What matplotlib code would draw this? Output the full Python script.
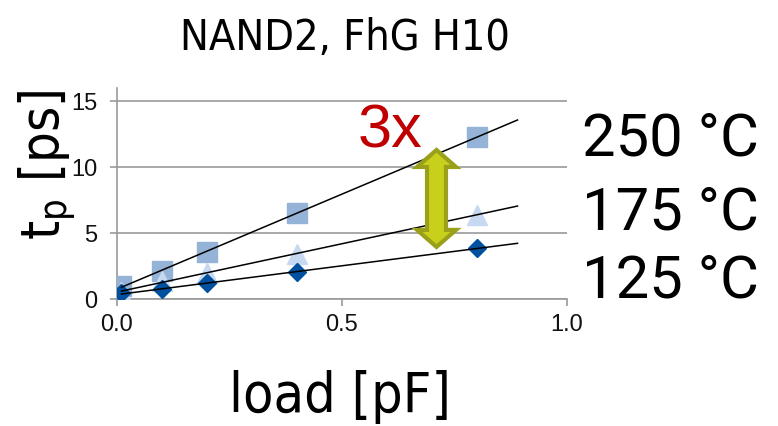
import numpy as np
import matplotlib
matplotlib.use('Agg')
import matplotlib.pyplot as plt
from matplotlib import font_manager as fm
from matplotlib.patches import Polygon
from matplotlib.transforms import IdentityTransform

# ---- data ----
load = [0.01, 0.1, 0.2, 0.4, 0.8]
tp_250 = [1.0, 2.1, 3.6, 6.5, 12.3]
tp_175 = [0.5, 1.4, 2.0, 3.4, 6.4]
tp_125 = [0.42, 0.75, 1.2, 2.05, 3.85]
temp_labels = ['250 °C', '175 °C', '125 °C']
xticks = [0.0, 0.5, 1.0]
xtick_labels = ['0.0', '0.5', '1.0']
yticks = [0, 5, 10, 15]
ytick_labels = ['0', '5', '10', '15']
trend_end = 0.89
arrow_x, arrow_top, arrow_bottom = 0.71, 11.3, 3.95

names = {f.name for f in fm.fontManager.ttflist}
sans = 'Liberation Sans' if 'Liberation Sans' in names else 'DejaVu Sans'
roboto = 'Roboto' if 'Roboto' in names else sans

# narrow font for title / axis labels
cond_files = [f.fname for f in fm.fontManager.ttflist
              if f.name == 'DejaVu Sans' and 'condensed' in str(f.stretch).lower()
              and 'Bold' not in f.fname and 'Oblique' not in f.fname]
if 'Liberation Sans Narrow' in names:
    narrow_fp = dict(family=['Liberation Sans Narrow'])
elif cond_files:
    narrow_fp = dict(family=['DejaVu Sans'], fontstretch='condensed')
else:
    narrow_fp = dict(family=[roboto])

plt.rcParams['font.family'] = [sans, 'DejaVu Sans']

W, H = 778, 426
fig = plt.figure(figsize=(W / 100, H / 100), dpi=100)
ax = fig.add_axes([117 / W, (H - 299) / H, 450 / W, 211 / H])
ax.set_xlim(0, 1)
ax.set_ylim(0, 16)

grid_c = '#999999'
ax.set_yticks(yticks)
ax.set_yticklabels(ytick_labels)
ax.set_xticks(xticks)
ax.set_xticklabels(xtick_labels)
ax.yaxis.grid(True, color=grid_c, linewidth=1.2)
ax.set_axisbelow(True)
for s in ['top', 'right']:
    ax.spines[s].set_visible(False)
for s in ['left', 'bottom']:
    ax.spines[s].set_color(grid_c)
    ax.spines[s].set_linewidth(1.2)
ax.tick_params(axis='both', direction='out', length=5, width=1.2, color=grid_c,
               labelsize=17, labelcolor='#111111')
ax.tick_params(axis='y', pad=9)
ax.tick_params(axis='x', pad=6)

ax.plot(load, tp_250, linestyle='none', marker='s', markersize=14,
        color='#95B3D7', zorder=3)
ax.plot(load, tp_175, linestyle='none', marker='^', markersize=14,
        color='#C6D9F1', zorder=4)
ax.plot(load, tp_125, linestyle='none', marker='D', markersize=9.5,
        color='#0050A0', zorder=5)

xs = np.array([load[0], trend_end])
for series in (tp_250, tp_175, tp_125):
    k, b = np.polyfit(load, series, 1)
    ax.plot(xs, k * xs + b, color='black', linewidth=1.1, zorder=6)

# double arrow (display coordinates)
fig.canvas.draw()
cx, yt = ax.transData.transform((arrow_x, arrow_top))
_, yb = ax.transData.transform((arrow_x, arrow_bottom))
hwh, hws, hl = 19.5, 9.5, 17
verts = [(cx, yt), (cx + hwh, yt - hl), (cx + hws, yt - hl), (cx + hws, yb + hl),
         (cx + hwh, yb + hl), (cx, yb), (cx - hwh, yb + hl), (cx - hws, yb + hl),
         (cx - hws, yt - hl), (cx - hwh, yt - hl)]
arrow = Polygon(verts, closed=True, facecolor='#C8D01C', edgecolor='#9AA01A',
                linewidth=3, joinstyle='miter', transform=IdentityTransform(), zorder=2)
fig.add_artist(arrow)

fig.text(390 / W, 1 - 147 / H, '3x', color='#C00000', fontsize=44,
         family=[sans], ha='center', va='baseline')

for lab, base in zip(temp_labels, [155, 230, 298]):
    fig.text(582 / W, 1 - base / H, lab, fontsize=43, family=[roboto, 'DejaVu Sans'],
             ha='left', va='baseline', color='black')

fig.text(345 / W, 1 - 50 / H, 'NAND2, FhG H10', fontsize=31,
         ha='center', va='baseline', **narrow_fp)
fig.text(339.5 / W, 1 - 412 / H, 'load [pF]', fontsize=40,
         ha='center', va='baseline', **narrow_fp)
fig.text(60 / W, 1 - 165 / H, r't$_\mathregular{p}$ [ps]', fontsize=39,
         rotation=90, rotation_mode='anchor', ha='center', va='baseline', **narrow_fp)

fig.savefig('out.png', dpi=100)
